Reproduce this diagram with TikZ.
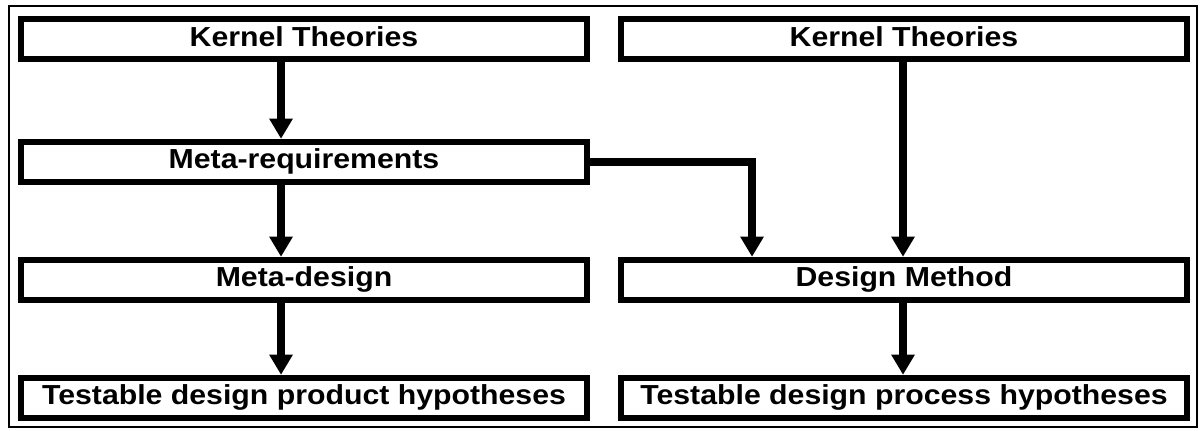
\documentclass[tikz,border=0pt]{standalone}
\usepackage{fontspec}
\setmainfont{Liberation Sans}[FakeStretch=1.1]
\usetikzlibrary{arrows.meta}
\tikzset{
  stagebox/.style={draw, line width=6pt, minimum width=566pt, minimum height=40pt,
    inner sep=0pt, font=\fontsize{27.5}{30}\selectfont\bfseries,
    text height=20.6pt, text depth=6pt},
  flow/.style={line width=8pt, -{Triangle[width=24pt,length=20pt,line width=0pt]}},
}
\begin{document}
\begin{tikzpicture}[x=1pt,y=-1pt]
\useasboundingbox (0,0) rectangle (1203,431);
% outer frame
\draw[line width=2pt] (9,6) rectangle (1197,427);

% product column
\node[stagebox] (ktp) at (304,39)    {Kernel Theories};
\node[stagebox] (mr)  at (304,161.5) {Meta-requirements};
\node[stagebox] (md)  at (304,279.5) {Meta-design};
\node[stagebox] (tp)  at (304,397.5) {Testable design product hypotheses};

% process column
\node[stagebox] (ktq) at (904,39)    {Kernel Theories};
\node[stagebox] (dm)  at (904,279.5) {Design Method};
\node[stagebox] (tq)  at (904,397.5) {Testable design process hypotheses};

% columns of the vertical connectors
\coordinate (lx) at (281,0);
\coordinate (mx) at (752,0);
\coordinate (rx) at (903,0);

\draw[flow] (ktp.south -| lx) -- (mr.north -| lx);
\draw[flow] (mr.south -| lx)  -- (md.north -| lx);
\draw[flow] (md.south -| lx)  -- (tp.north -| lx);

\draw[flow] (ktq.south -| rx) -- (dm.north -| rx);
\draw[flow] (dm.south -| rx)  -- (tq.north -| rx);

\draw[flow] (mr.east) -| (dm.north -| mx);
\end{tikzpicture}
\end{document}
